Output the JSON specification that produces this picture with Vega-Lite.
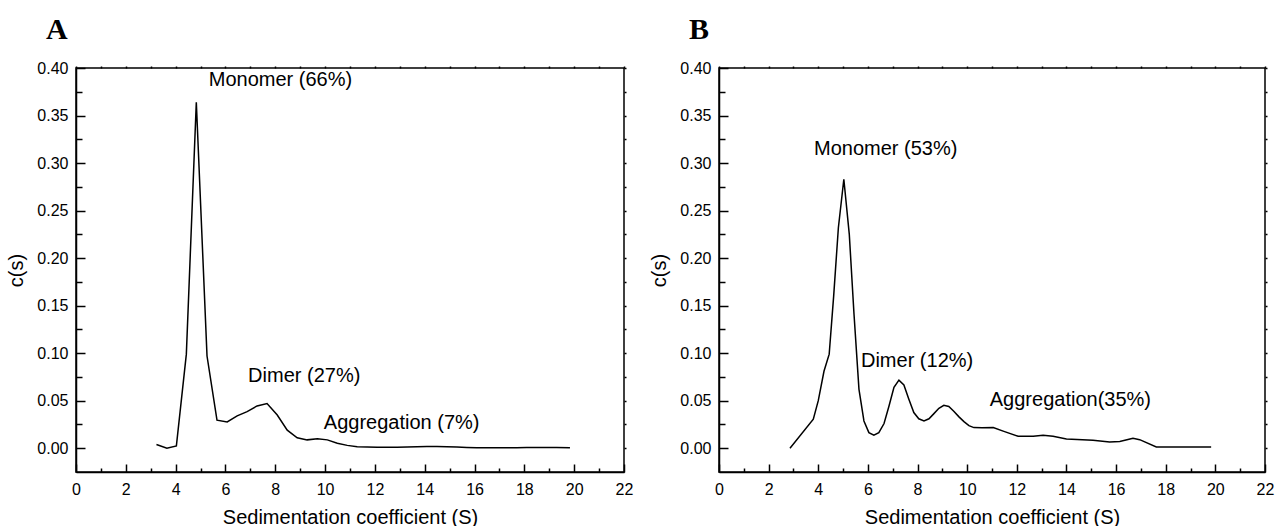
{
  "$schema": "https://vega.github.io/schema/vega-lite/v6.json",
  "background": "white",
  "padding": {"left": 6, "top": 14, "right": 0, "bottom": 0},
  "spacing": 15,
  "config": {
    "font": "Liberation Sans",
    "view": {"stroke": "black", "strokeWidth": 1.5},
    "axis": {
      "grid": false,
      "domainColor": "black",
      "domainWidth": 1.5,
      "tickColor": "black",
      "tickWidth": 1.5,
      "labelColor": "black",
      "labelFont": "Liberation Sans",
      "labelFontSize": 16,
      "titleFont": "Liberation Sans",
      "titleFontSize": 20,
      "titleFontWeight": "normal",
      "titleColor": "black"
    }
  },
  "datasets": {
    "A": [
      {"s": 3.23, "c": 0.004}, {"s": 3.65, "c": 0.0}, {"s": 4.03, "c": 0.0025}, {"s": 4.43, "c": 0.099},
      {"s": 4.83, "c": 0.364}, {"s": 5.26, "c": 0.097}, {"s": 5.66, "c": 0.0295}, {"s": 6.07, "c": 0.0277},
      {"s": 6.47, "c": 0.034}, {"s": 6.87, "c": 0.0385}, {"s": 7.27, "c": 0.0445}, {"s": 7.67, "c": 0.047},
      {"s": 8.08, "c": 0.035}, {"s": 8.48, "c": 0.019}, {"s": 8.88, "c": 0.011}, {"s": 9.28, "c": 0.0088},
      {"s": 9.69, "c": 0.010}, {"s": 10.09, "c": 0.0088}, {"s": 10.49, "c": 0.0053}, {"s": 10.89, "c": 0.003},
      {"s": 11.29, "c": 0.0016}, {"s": 11.69, "c": 0.0012}, {"s": 12.09, "c": 0.001}, {"s": 12.49, "c": 0.001},
      {"s": 12.89, "c": 0.001}, {"s": 13.29, "c": 0.0012}, {"s": 13.69, "c": 0.0015}, {"s": 14.09, "c": 0.0018},
      {"s": 14.49, "c": 0.0018}, {"s": 14.89, "c": 0.0015}, {"s": 15.29, "c": 0.0012}, {"s": 15.69, "c": 0.0008},
      {"s": 16.09, "c": 0.0006}, {"s": 16.49, "c": 0.0006}, {"s": 16.89, "c": 0.0006}, {"s": 17.29, "c": 0.0006},
      {"s": 17.69, "c": 0.0006}, {"s": 18.09, "c": 0.0007}, {"s": 18.49, "c": 0.0008}, {"s": 18.89, "c": 0.0008},
      {"s": 19.29, "c": 0.0008}, {"s": 19.83, "c": 0.0006}
    ],
    "B": [
      {"s": 2.86, "c": 0.0}, {"s": 3.8, "c": 0.0305}, {"s": 4.0, "c": 0.05}, {"s": 4.23, "c": 0.081},
      {"s": 4.44, "c": 0.099}, {"s": 4.62, "c": 0.16}, {"s": 4.81, "c": 0.232}, {"s": 5.03, "c": 0.283},
      {"s": 5.25, "c": 0.225}, {"s": 5.44, "c": 0.141}, {"s": 5.64, "c": 0.062}, {"s": 5.84, "c": 0.0287},
      {"s": 6.04, "c": 0.0164}, {"s": 6.24, "c": 0.0137}, {"s": 6.44, "c": 0.0164}, {"s": 6.65, "c": 0.026},
      {"s": 6.85, "c": 0.0445}, {"s": 7.05, "c": 0.064}, {"s": 7.25, "c": 0.0716}, {"s": 7.45, "c": 0.0666},
      {"s": 7.65, "c": 0.0516}, {"s": 7.85, "c": 0.0375}, {"s": 8.05, "c": 0.031}, {"s": 8.26, "c": 0.0287},
      {"s": 8.46, "c": 0.031}, {"s": 8.66, "c": 0.0364}, {"s": 8.86, "c": 0.042}, {"s": 9.06, "c": 0.0452},
      {"s": 9.26, "c": 0.044}, {"s": 9.46, "c": 0.039}, {"s": 9.67, "c": 0.033}, {"s": 9.87, "c": 0.028},
      {"s": 10.07, "c": 0.0238}, {"s": 10.27, "c": 0.0217}, {"s": 10.6, "c": 0.0215}, {"s": 11.05, "c": 0.0217},
      {"s": 11.45, "c": 0.018}, {"s": 12.05, "c": 0.0126}, {"s": 12.66, "c": 0.0126}, {"s": 13.06, "c": 0.0137},
      {"s": 13.46, "c": 0.0126}, {"s": 14.0, "c": 0.0098}, {"s": 15.07, "c": 0.0084}, {"s": 15.74, "c": 0.0066},
      {"s": 16.15, "c": 0.007}, {"s": 16.68, "c": 0.0105}, {"s": 16.95, "c": 0.009}, {"s": 17.62, "c": 0.0014},
      {"s": 19.83, "c": 0.0014}
    ],
    "labelsA": [
      {"s": 5.33, "c": 0.387, "label": "Monomer (66%)"},
      {"s": 6.91, "c": 0.076, "label": "Dimer (27%)"},
      {"s": 9.95, "c": 0.027, "label": "Aggregation (7%)"}
    ],
    "labelsB": [
      {"s": 3.83, "c": 0.315, "label": "Monomer (53%)"},
      {"s": 5.72, "c": 0.092, "label": "Dimer (12%)"},
      {"s": 10.91, "c": 0.0505, "label": "Aggregation(35%)"}
    ]
  },
  "hconcat": [
    {
      "width": 548,
      "height": 404,
      "title": {"text": "A", "anchor": "start", "frame": "group", "font": "Liberation Serif", "fontSize": 30, "fontWeight": "bold", "color": "black", "dx": -30, "offset": 15},
      "layer": [
        {
          "data": {"name": "A"},
          "mark": {"type": "line", "color": "black", "strokeWidth": 1.5},
          "encoding": {
            "x": {"field": "s", "type": "quantitative", "scale": {"domain": [0, 22], "nice": false},
              "axis": {"orient": "bottom", "title": "Sedimentation coefficient (S)", "values": [0,1,2,3,4,5,6,7,8,9,10,11,12,13,14,15,16,17,18,19,20,21,22],
                "labelExpr": "datum.value % 2 === 0 ? datum.label : ''",
                "tickSize": {"condition": {"test": "datum.value % 2 !== 0", "value": -4}, "value": -8}, "zindex": 1,
                "labelPadding": 17, "titlePadding": 10, "labelFlush": false}},
            "y": {"field": "c", "type": "quantitative", "scale": {"domain": [-0.025, 0.4], "nice": false, "zero": false},
              "axis": {"orient": "left", "title": "c(s)", "values": [0,0.025,0.05,0.075,0.1,0.125,0.15,0.175,0.2,0.225,0.25,0.275,0.3,0.325,0.35,0.375,0.4],
                "labelExpr": "abs(datum.value*20 - round(datum.value*20)) < 0.001 ? format(datum.value, '.2f') : ''",
                "tickSize": {"condition": {"test": "abs(datum.value*20 - round(datum.value*20)) > 0.001", "value": -6}, "value": -9}, "zindex": 1,
                "labelPadding": 17, "titlePadding": 10, "labelFlush": false}}
          }
        },
        {
          "data": {"name": "labelsA"},
          "mark": {"type": "text", "align": "left", "baseline": "middle", "fontSize": 20, "font": "Liberation Sans", "color": "black"},
          "encoding": {
            "x": {"field": "s", "type": "quantitative", "axis": {"orient": "top", "labels": false, "title": null, "domain": false, "tickSize": 2, "zindex": 1, "values": [0,1,2,3,4,5,6,7,8,9,10,11,12,13,14,15,16,17,18,19,20,21,22]}},
            "y": {"field": "c", "type": "quantitative", "axis": {"orient": "right", "labels": false, "title": null, "domain": false, "tickSize": 2, "zindex": 1, "values": [0,0.025,0.05,0.075,0.1,0.125,0.15,0.175,0.2,0.225,0.25,0.275,0.3,0.325,0.35,0.375,0.4]}},
            "text": {"field": "label"}
          }
        }
      ]
    },
    {
      "width": 546,
      "height": 404,
      "title": {"text": "B", "anchor": "start", "frame": "group", "font": "Liberation Serif", "fontSize": 30, "fontWeight": "bold", "color": "black", "dx": -30, "offset": 15},
      "layer": [
        {
          "data": {"name": "B"},
          "mark": {"type": "line", "color": "black", "strokeWidth": 1.5},
          "encoding": {
            "x": {"field": "s", "type": "quantitative", "scale": {"domain": [0, 22], "nice": false},
              "axis": {"orient": "bottom", "title": "Sedimentation coefficient (S)", "values": [0,1,2,3,4,5,6,7,8,9,10,11,12,13,14,15,16,17,18,19,20,21,22],
                "labelExpr": "datum.value % 2 === 0 ? datum.label : ''",
                "tickSize": {"condition": {"test": "datum.value % 2 !== 0", "value": -4}, "value": -8}, "zindex": 1,
                "labelPadding": 17, "titlePadding": 10, "labelFlush": false}},
            "y": {"field": "c", "type": "quantitative", "scale": {"domain": [-0.025, 0.4], "nice": false, "zero": false},
              "axis": {"orient": "left", "title": "c(s)", "values": [0,0.025,0.05,0.075,0.1,0.125,0.15,0.175,0.2,0.225,0.25,0.275,0.3,0.325,0.35,0.375,0.4],
                "labelExpr": "abs(datum.value*20 - round(datum.value*20)) < 0.001 ? format(datum.value, '.2f') : ''",
                "tickSize": {"condition": {"test": "abs(datum.value*20 - round(datum.value*20)) > 0.001", "value": -6}, "value": -9}, "zindex": 1,
                "labelPadding": 17, "titlePadding": 10, "labelFlush": false}}
          }
        },
        {
          "data": {"name": "labelsB"},
          "mark": {"type": "text", "align": "left", "baseline": "middle", "fontSize": 20, "font": "Liberation Sans", "color": "black"},
          "encoding": {
            "x": {"field": "s", "type": "quantitative", "axis": {"orient": "top", "labels": false, "title": null, "domain": false, "tickSize": 2, "zindex": 1, "values": [0,1,2,3,4,5,6,7,8,9,10,11,12,13,14,15,16,17,18,19,20,21,22]}},
            "y": {"field": "c", "type": "quantitative", "axis": {"orient": "right", "labels": false, "title": null, "domain": false, "tickSize": 2, "zindex": 1, "values": [0,0.025,0.05,0.075,0.1,0.125,0.15,0.175,0.2,0.225,0.25,0.275,0.3,0.325,0.35,0.375,0.4]}},
            "text": {"field": "label"}
          }
        }
      ]
    }
  ]
}
